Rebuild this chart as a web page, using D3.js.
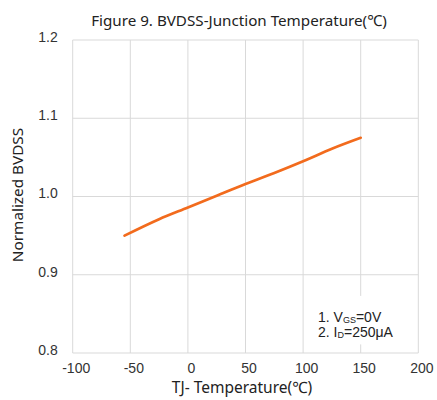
<!DOCTYPE html>
<html>
<head>
<meta charset="utf-8">
<script src="https://cdn.jsdelivr.net/npm/d3@7"></script>
<style>
  html, body { margin: 0; padding: 0; background: #fff; }
  svg { display: block; }
</style>
</head>
<body>
<svg id="chart" width="437" height="400"></svg>
<script>
const temperatures = [-55, -25, 0, 25, 50, 75, 100, 125, 150];
const bvdss = [0.950, 0.971, 0.986, 1.001, 1.016, 1.030, 1.045, 1.061, 1.075];
const xTicks = [-100, -50, 0, 50, 100, 150, 200];
const yTicks = [0.8, 0.9, 1.0, 1.1, 1.2];
const titleText = "Figure 9. BVDSS-Junction Temperature(℃)";
const xTitle = "TJ- Temperature(℃)";
const yTitle = "Normalized BVDSS";
const noteLines = [["1. V", "GS", "=0V"], ["2. I", "D", "=250μA"]];

const svg = d3.select("#chart");
const m = { left: 72.7, right: 418.3, top: 40, bottom: 353 };
const x = d3.scaleLinear().domain([-100, 200]).range([m.left, m.right]);
const y = d3.scaleLinear().domain([0.8, 1.2]).range([m.bottom, m.top]);

const sansUI = "'Noto Sans', 'Open Sans', sans-serif";
const arial = "'Liberation Sans', Arial, sans-serif";

// gridlines
const grid = svg.append("g");
grid.selectAll("line.v").data(xTicks).join("line")
  .attr("x1", d => x(d)).attr("x2", d => x(d))
  .attr("y1", m.top).attr("y2", m.bottom)
  .attr("stroke", "#d9d9d9").attr("stroke-width", 1);
grid.selectAll("line.h").data(yTicks).join("line")
  .attr("x1", m.left).attr("x2", m.right)
  .attr("y1", d => y(d)).attr("y2", d => y(d))
  .attr("stroke", "#d9d9d9").attr("stroke-width", 1);

// axes labels via d3 axes
const xAxis = svg.append("g").attr("transform", `translate(0,${m.bottom})`)
  .call(d3.axisBottom(x).tickValues(xTicks).tickSize(0).tickPadding(10).tickFormat(d => String(d)));
xAxis.select(".domain").remove();
xAxis.selectAll("text").attr("font-family", arial).attr("font-size", 14).attr("fill", "#333")
  .attr("dx", 3);

const yAxis = svg.append("g").attr("transform", `translate(${m.left},0)`)
  .call(d3.axisLeft(y).tickValues(yTicks).tickSize(0).tickPadding(15).tickFormat(d3.format(".1f")));
yAxis.select(".domain").remove();
yAxis.selectAll("text").attr("font-family", arial).attr("font-size", 14).attr("fill", "#333")
  .attr("dy", "0.1em");

// line
const line = d3.line().x((d, i) => x(temperatures[i])).y(d => y(d)).curve(d3.curveMonotoneX);
svg.append("path").datum(bvdss).attr("d", line)
  .attr("fill", "none").attr("stroke", "#f26b1d").attr("stroke-width", 2.75)
  .attr("stroke-linecap", "round");

// annotation box
svg.append("rect").attr("x", x(102)).attr("y", y(0.9 - 0.027)).attr("width", x(197) - x(102))
  .attr("height", y(0.811) - y(0.873)).attr("fill", "#fff");
noteLines.forEach((parts, i) => {
  const t = svg.append("text").attr("font-family", arial).attr("font-size", 14).attr("fill", "#222")
    .attr("x", 318).attr("y", 321.5 + i * 15);
  t.append("tspan").text(parts[0]);
  t.append("tspan").attr("font-size", 9).attr("dy", 1).text(parts[1]);
  t.append("tspan").attr("dy", -1).text(parts[2]);
});

// titles
svg.append("text").attr("x", 239).attr("y", 26).attr("text-anchor", "middle")
  .attr("font-family", sansUI).attr("font-size", 15.2).attr("fill", "#222").text(titleText);
svg.append("text").attr("x", 242).attr("y", 393).attr("text-anchor", "middle")
  .attr("font-family", sansUI).attr("font-size", 15.5).attr("fill", "#222").text(xTitle);
svg.append("text").attr("transform", "translate(23,195) rotate(-90)").attr("text-anchor", "middle")
  .attr("font-family", sansUI).attr("font-size", 15.3).attr("fill", "#222").text(yTitle);
</script>
</body>
</html>
